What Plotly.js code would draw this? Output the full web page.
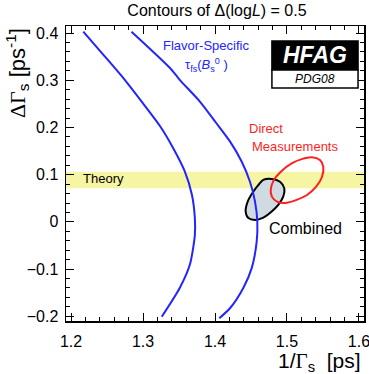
<!DOCTYPE html>
<html>
<head>
<meta charset="utf-8">
<script src="https://cdn.plot.ly/plotly-3.0.1.min.js"></script>
<style>html,body{margin:0;padding:0;background:#fff;}#chart{width:369px;height:374px;}</style>
</head>
<body>
<div id="chart"></div>
<script>
// Flavor-specific lifetime contour: left branch
const fsLeftX = [1.217, 1.245, 1.273, 1.300, 1.324, 1.342, 1.358, 1.368, 1.372, 1.372, 1.365, 1.351, 1.326];
const fsLeftY = [0.403, 0.354, 0.304, 0.251, 0.202, 0.156, 0.107, 0.057, 0.008, -0.028, -0.091, -0.140, -0.201];
// Flavor-specific lifetime contour: right branch
const fsRightX = [1.284, 1.3375, 1.351, 1.379, 1.402, 1.421, 1.437, 1.4486, 1.4556, 1.4588, 1.4579, 1.451, 1.4393, 1.4208, 1.406];
const fsRightY = [0.403, 0.326, 0.301, 0.255, 0.209, 0.170, 0.128, 0.085, 0.043, 0.001, -0.042, -0.098, -0.140, -0.183, -0.204];
// Direct measurements contour
const directX = [1.4774, 1.4819, 1.4926, 1.5065, 1.5204, 1.5347, 1.5458, 1.5504, 1.5486, 1.5403, 1.5278, 1.5125, 1.4972, 1.4861, 1.4792, 1.4774];
const directY = [0.068, 0.089, 0.108, 0.124, 0.133, 0.137, 0.131, 0.117, 0.095, 0.074, 0.057, 0.046, 0.040, 0.043, 0.053, 0.068];
// Combined contour
const combX = [1.4671, 1.4788, 1.4903, 1.4963, 1.4949, 1.4879, 1.4788, 1.4671, 1.4556, 1.4463, 1.4426, 1.4454, 1.4532, 1.4601, 1.4671];
const combY = [0.089, 0.091, 0.085, 0.071, 0.054, 0.036, 0.022, 0.009, 0.004, 0.008, 0.022, 0.043, 0.064, 0.078, 0.089];
// Theory band
const theoryLow = 0.071;
const theoryHigh = 0.106;
// Axis ticks
const xTickVals = [1.2, 1.3, 1.4, 1.5, 1.6];
const xTickText = ["1.2", "1.3", "1.4", "1.5", "1.6"];
const yTickVals = [-0.2, -0.1, 0, 0.1, 0.2, 0.3, 0.4];
const yTickText = ["\u22120.2", "\u22120.1", "0", "0.1", "0.2", "0.3", "0.4"];

const FONT = "Liberation Sans, Arial, Helvetica, sans-serif";
const blue = "#2424ff";
const red = "#ff1f1f";

const traces = [
  {x: combX, y: combY, mode: "lines", fill: "toself", fillcolor: "#cfdbe1",
   line: {color: "#000", width: 2, shape: "spline", smoothing: 1}, hoverinfo: "skip"},
  {x: fsLeftX, y: fsLeftY, mode: "lines", line: {color: blue, width: 2, shape: "spline", smoothing: 0.7}, hoverinfo: "skip"},
  {x: fsRightX, y: fsRightY, mode: "lines", line: {color: blue, width: 2, shape: "spline", smoothing: 0.7}, hoverinfo: "skip"},
  {x: directX, y: directY, mode: "lines", line: {color: red, width: 2, shape: "spline", smoothing: 1}, hoverinfo: "skip"}
];

const axisCommon = {
  showline: true, linecolor: "#000", linewidth: 1.5, mirror: "ticks",
  ticks: "inside", ticklen: 8, tickwidth: 1, tickcolor: "#000",
  showgrid: false, zeroline: false, ticklabeloverflow: "allow",
  tickfont: {family: FONT, size: 16, color: "#000"},
  minor: {dtick: 0.02, ticks: "inside", ticklen: 4, tickwidth: 1, tickcolor: "#000", showgrid: false}
};

const layout = {
  width: 369, height: 374,
  margin: {l: 66, r: 5, t: 26, b: 53},
  paper_bgcolor: "#fff", plot_bgcolor: "#fff",
  showlegend: false,
  title: {text: "Contours of \u0394(log<i>L</i>) = 0.5", font: {family: FONT, size: 16, color: "#000"},
          xref: "container", x: 0.588, xanchor: "center", yref: "container", y: 0.973, yanchor: "middle"},
  xaxis: Object.assign({}, axisCommon, {range: [1.193, 1.607], tickvals: xTickVals, ticktext: xTickText, ticklabelstandoff: 5}),
  yaxis: Object.assign({}, axisCommon, {range: [-0.21, 0.415], tickvals: yTickVals, ticktext: yTickText, ticklabelstandoff: 3}),
  shapes: [
    {type: "rect", xref: "paper", x0: 0, x1: 1, yref: "y", y0: theoryLow, y1: theoryHigh,
     fillcolor: "#f5f5a3", line: {width: 0}, layer: "below"},
    {type: "rect", xref: "paper", yref: "paper", x0: 0.691, x1: 0.98, y0: 0.851, y1: 0.949,
     fillcolor: "#000", line: {color: "#000", width: 1.5}},
    {type: "rect", xref: "paper", yref: "paper", x0: 0.691, x1: 0.98, y0: 0.79, y1: 0.851,
     fillcolor: "#fff", line: {color: "#000", width: 1.5}}
  ],
  annotations: [
    {text: "Theory", xref: "x", yref: "y", x: 1.2139, y: 0.091, xanchor: "left", yanchor: "middle",
     showarrow: false, font: {family: FONT, size: 13, color: "#000"}},
    {text: "Flavor-Specific", xref: "x", yref: "y", x: 1.3875, y: 0.374, xanchor: "center", yanchor: "middle",
     showarrow: false, font: {family: FONT, size: 13, color: blue}},
    {text: "\u03c4<sub>fs</sub>(<i>B</i><sub>s</sub><sup>0</sup> )", xref: "x", yref: "y", x: 1.3875, y: 0.333, xanchor: "center", yanchor: "middle",
     showarrow: false, font: {family: FONT, size: 13, color: blue}},
    {text: "Direct", xref: "x", yref: "y", x: 1.4444, y: 0.197, xanchor: "left", yanchor: "middle",
     showarrow: false, font: {family: FONT, size: 13, color: red}},
    {text: "Measurements", xref: "x", yref: "y", x: 1.4486, y: 0.159, xanchor: "left", yanchor: "middle",
     showarrow: false, font: {family: FONT, size: 13, color: red}},
    {text: "Combined", xref: "x", yref: "y", x: 1.472, y: -0.013, xanchor: "left", yanchor: "middle",
     showarrow: false, font: {family: FONT, size: 16, color: "#000"}},
    {text: "<b><i>HFAG</i></b>", xref: "paper", yref: "paper", x: 0.836, y: 0.9, xanchor: "center", yanchor: "middle",
     showarrow: false, font: {family: FONT, size: 23, color: "#fff"}},
    {text: "<i>PDG08</i>", xref: "paper", yref: "paper", x: 0.836, y: 0.82, xanchor: "center", yanchor: "middle",
     showarrow: false, font: {family: FONT, size: 12, color: "#000"}},
    {text: "1/<span style=\"font-family:Liberation Serif\">\u0393</span><sub>s</sub>  [ps]", xref: "paper", yref: "paper",
     x: 0.995, y: -0.14, xanchor: "right", yanchor: "middle",
     showarrow: false, font: {family: FONT, size: 21, color: "#000"}},
    {text: "<span style=\"font-family:Liberation Serif\">\u0394\u0393</span><sub>s</sub> [ps<sup>-1</sup>]", xref: "paper", yref: "paper",
     x: -0.165, y: 0.84, xanchor: "center", yanchor: "middle", textangle: -90,
     showarrow: false, font: {family: FONT, size: 22, color: "#000"}}
  ]
};

Plotly.newPlot("chart", traces, layout, {staticPlot: true, displayModeBar: false});
</script>
</body>
</html>
